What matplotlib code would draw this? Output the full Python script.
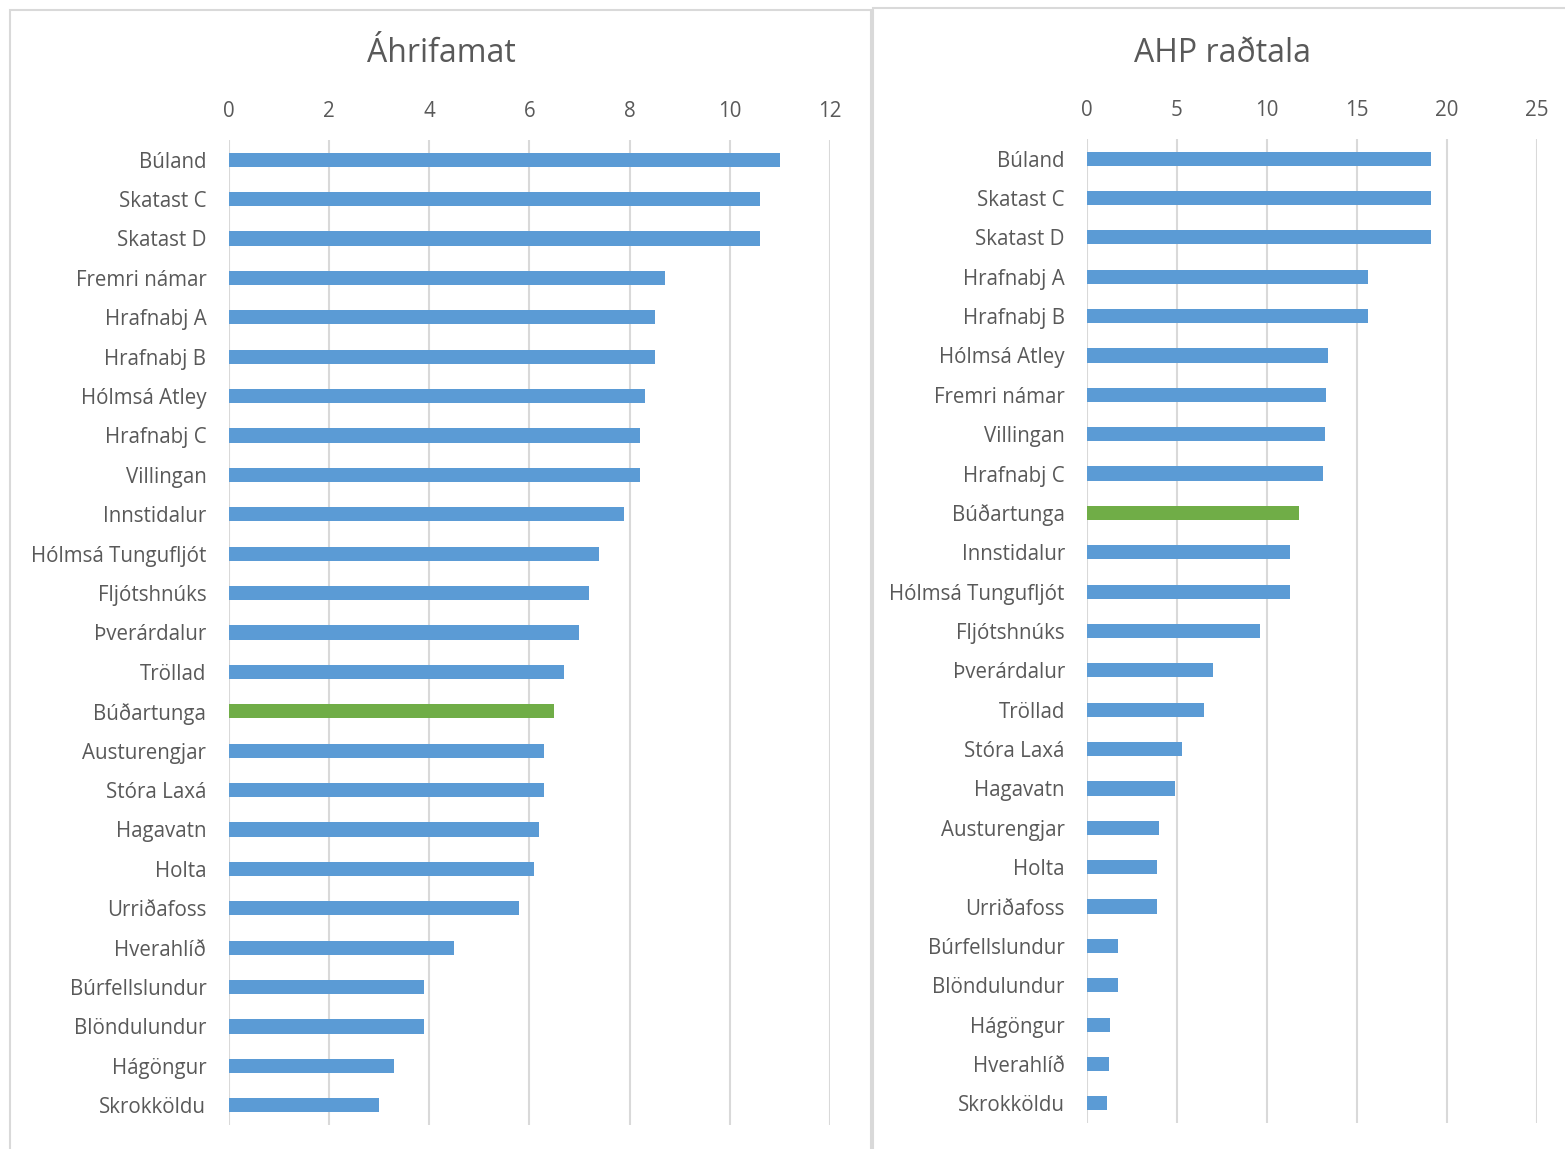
import matplotlib.pyplot as plt
from matplotlib.patches import Rectangle

plt.rcParams['font.family'] = ['Open Sans', 'DejaVu Sans']

# Áhrifamat
stadir_vinstri = ["Búland", "Skatast C", "Skatast D", "Fremri námar", "Hrafnabj A",
                  "Hrafnabj B", "Hólmsá Atley", "Hrafnabj C", "Villingan", "Innstidalur",
                  "Hólmsá Tungufljót", "Fljótshnúks", "Þverárdalur", "Tröllad", "Búðartunga",
                  "Austurengjar", "Stóra Laxá", "Hagavatn", "Holta", "Urriðafoss",
                  "Hverahlíð", "Búrfellslundur", "Blöndulundur", "Hágöngur", "Skrokköldu"]
ahrifamat = [11.0, 10.6, 10.6, 8.7, 8.5, 8.5, 8.3, 8.2, 8.2, 7.9, 7.4, 7.2, 7.0, 6.7, 6.5,
             6.3, 6.3, 6.2, 6.1, 5.8, 4.5, 3.9, 3.9, 3.3, 3.0]

# AHP raðtala
stadir_haegri = ["Búland", "Skatast C", "Skatast D", "Hrafnabj A", "Hrafnabj B",
                 "Hólmsá Atley", "Fremri námar", "Villingan", "Hrafnabj C", "Búðartunga",
                 "Innstidalur", "Hólmsá Tungufljót", "Fljótshnúks", "Þverárdalur", "Tröllad",
                 "Stóra Laxá", "Hagavatn", "Austurengjar", "Holta", "Urriðafoss",
                 "Búrfellslundur", "Blöndulundur", "Hágöngur", "Hverahlíð", "Skrokköldu"]
ahp = [19.1, 19.1, 19.1, 15.6, 15.6, 13.4, 13.3, 13.2, 13.1, 11.8, 11.3, 11.3, 9.6, 7.0, 6.5,
       5.3, 4.9, 4.0, 3.9, 3.9, 1.7, 1.7, 1.3, 1.2, 1.1]

BLAR = "#5B9BD5"
GRAENN = "#70AD47"
GRAR = "#595959"
LINA = "#D9D9D9"
W, H = 1565, 1149

fig = plt.figure(figsize=(W / 100, H / 100), dpi=100)

# rammar utan um hvort graf (neðri brún utan myndar)
fig.patches.append(Rectangle((10 / W, -0.02), 861 / W, 1.02 - 10 / H, transform=fig.transFigure,
                             fill=False, edgecolor=LINA, linewidth=1.5))
fig.patches.append(Rectangle((873 / W, -0.02), 700 / W, 1.02 - 8 / H, transform=fig.transFigure,
                             fill=False, edgecolor=LINA, linewidth=1.5))


def teikna(ax, nofn, gildi, xmax, skref, titill, tx):
    litir = [GRAENN if n == "Búðartunga" else BLAR for n in nofn]
    y = list(range(len(nofn)))
    ax.barh(y, gildi, height=0.36, color=litir, zorder=3)
    ax.set_xlim(0, xmax)
    ax.set_ylim(len(nofn) - 0.5, -0.5)
    ax.set_xticks(range(0, xmax + 1, skref))
    ax.xaxis.tick_top()
    ax.grid(axis='x', color=LINA, linewidth=1.5, zorder=0)
    ax.set_yticks(y)
    ax.set_yticklabels(nofn)
    ax.tick_params(axis='both', length=0, labelsize=14.8, colors=GRAR)
    ax.tick_params(axis='y', pad=16)
    ax.tick_params(axis='x', pad=13)
    for s in ax.spines.values():
        s.set_visible(False)
    fig.text(tx / W, 1 - 54 / H, titill, ha='center', va='center', fontsize=23, color=GRAR)


ax1 = fig.add_axes([228.5 / W, 1 - 1125 / H, (830 - 228.5) / W, (1125 - 140) / H])
teikna(ax1, stadir_vinstri, ahrifamat, 12, 2, "Áhrifamat", 441)

ax2 = fig.add_axes([1087 / W, 1 - 1123 / H, (1537 - 1087) / W, (1123 - 139) / H])
teikna(ax2, stadir_haegri, ahp, 25, 5, "AHP raðtala", 1223)

fig.savefig("out.png", dpi=100)
